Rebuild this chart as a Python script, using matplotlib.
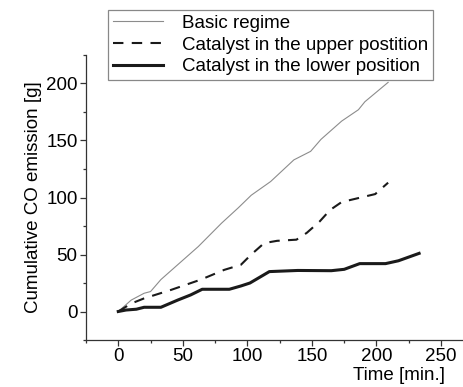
import matplotlib
matplotlib.use("Agg")
import matplotlib.pyplot as plt
from matplotlib.ticker import MultipleLocator

plt.rcParams['font.family'] = ['Liberation Sans', 'DejaVu Sans']
plt.rcParams['font.size'] = 13.5

# Basic regime (thin grey)
t_basic = [0, 10, 20, 25, 33, 46, 62, 80, 93, 103, 118, 136, 149, 157, 173, 186, 191, 209]
co_basic = [0, 10, 16, 17.5, 28, 41, 57, 77.5, 91, 102, 114, 133, 140.5, 151, 167, 177, 184, 201]

# Catalyst in the upper position (dashed)
t_upper = [0, 10, 20, 41, 64, 82, 95, 103, 113, 123, 138, 146, 156, 164, 173, 186, 199, 209]
co_upper = [0, 7, 11.5, 19, 28, 36.5, 41, 50, 60, 62, 63, 69, 79, 89, 96, 99.5, 103, 113]

# Catalyst in the lower position (thick)
t_lower = [0, 6, 14, 20, 33, 46, 56, 65, 86, 95, 102, 117, 139, 165, 175, 187, 207, 217, 233]
co_lower = [0, 1.3, 2, 3.7, 3.7, 10, 14.5, 19.5, 19.5, 22.4, 25, 35, 36, 35.8, 37, 42, 42, 44.5, 51]

W, H = 463, 387
fig = plt.figure(figsize=(W / 100, H / 100), dpi=100)
ax = fig.add_axes([86 / W, 1 - 340 / H, (463 - 86) / W, (340 - 55) / H])

ax.plot(t_basic, co_basic, color='#8c8c8c', lw=0.8, label='Basic regime')
ax.plot(t_upper, co_upper, color='#1a1a1a', lw=1.5, ls=(0, (5, 4)),
        label='Catalyst in the upper postition')
ax.plot(t_lower, co_lower, color='#1a1a1a', lw=2.2, label='Catalyst in the lower position')

ax.set_xlim(-25, 267)
ax.set_ylim(-25, 225)
ax.set_xticks([0, 50, 100, 150, 200, 250])
ax.set_yticks([0, 50, 100, 150, 200])
ax.xaxis.set_minor_locator(MultipleLocator(25))
ax.yaxis.set_minor_locator(MultipleLocator(25))

for s in ['top', 'right']:
    ax.spines[s].set_visible(False)
for s in ['left', 'bottom']:
    ax.spines[s].set_color('#333333')
    ax.spines[s].set_linewidth(0.9)
ax.tick_params(which='major', length=4, width=0.9, color='#333333', pad=2, labelsize=13.5)
ax.tick_params(which='minor', length=2.5, width=0.9, color='#333333')

ax.set_ylabel('Cumulative CO emission [g]', fontsize=13.5, labelpad=3)
ax.set_xlabel('Time [min.]', fontsize=13.5, ha='right')
ax.xaxis.set_label_coords((445 - 86) / (463 - 86), -0.095)

leg = ax.legend(loc='upper left', bbox_to_anchor=(108 / W, 1 - 10 / H),
                bbox_transform=fig.transFigure, borderaxespad=0, fancybox=False,
                framealpha=1, edgecolor='#888888', handlelength=2.7,
                handletextpad=1.0, labelspacing=0.25, borderpad=0.25, fontsize=13.5)
leg.get_frame().set_linewidth(0.9)

fig.savefig('out.png', dpi=100)
